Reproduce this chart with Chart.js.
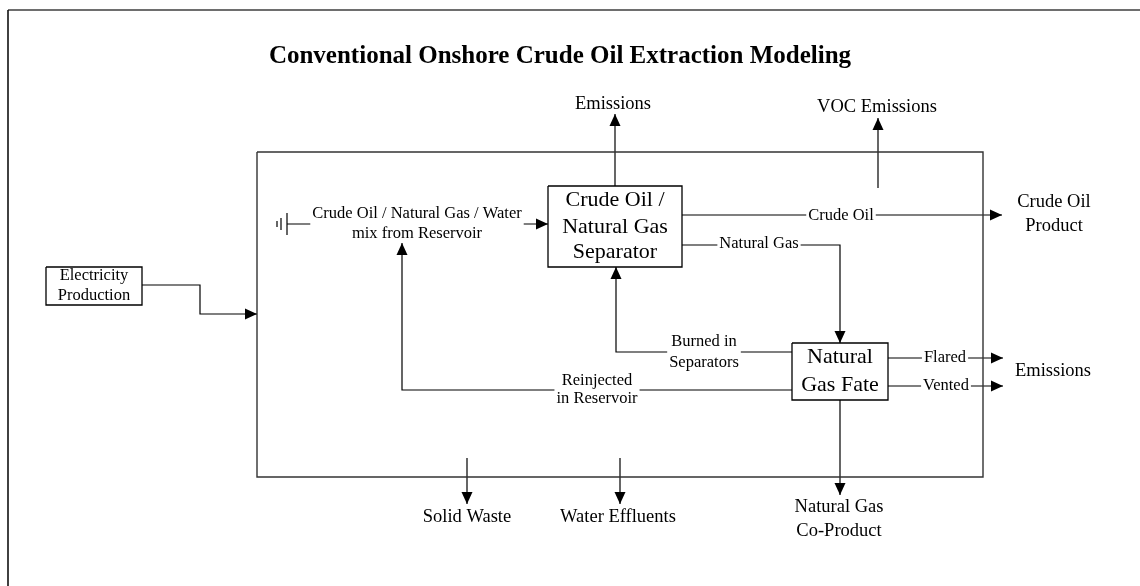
<!DOCTYPE html>
<html><head><meta charset="utf-8">
<script src="https://cdn.jsdelivr.net/npm/chart.js@4"></script>
<style>html,body{margin:0;padding:0;background:#fff;}#wrap{width:1140px;height:586px;}</style>
</head><body><div id="wrap"><canvas id="c" width="1140" height="586"></canvas></div>
<script>
// ---- diagram content (values in diagram units) ----
const titleText = 'Conventional Onshore Crude Oil Extraction Modeling';
const titleAt = [560, 57];

const frameLeft = [[8, 586], [8, 10]];
const frameTop = [[8, 10], [1140, 10]];
const boundary = [257, 152, 983, 477];

const boxLabels = [['Crude Oil /', 'Natural Gas', 'Separator'], ['Natural', 'Gas Fate'], ['Electricity', 'Production']];
const boxCorners = [[548, 186, 682, 267], [792, 343, 888, 400], [46, 267, 142, 305]];
const boxLineY = [[200.5, 227, 252], [357.5, 385], [275.5, 295.5]];
const boxFontPx = [22, 22, 16.5];

const flowPaths = [
  [[615, 186], [615, 114]],
  [[878, 188], [878, 118]],
  [[287, 224], [548, 224]],
  [[682, 215], [1002, 215]],
  [[682, 245], [840, 245], [840, 343]],
  [[792, 352], [616, 352], [616, 267]],
  [[792, 390], [402, 390], [402, 243]],
  [[888, 358], [1003, 358]],
  [[888, 386], [1003, 386]],
  [[840, 400], [840, 495]],
  [[467, 458], [467, 504]],
  [[620, 458], [620, 504]],
  [[142, 285], [200, 285], [200, 314], [257, 314]]
];
const groundMarks = [
  [[287, 213], [287, 235]],
  [[281, 218], [281, 230]],
  [[277, 221], [277, 227]]
];

const flowLabels = [['Crude Oil / Natural Gas / Water', 'mix from Reservoir'], ['Crude Oil'], ['Natural Gas'], ['Flared'], ['Vented'], ['Burned in', 'Separators'], ['Reinjected', 'in Reservoir']];
const flowLabelX = [417, 841, 759, 945, 946, 704, 597];
const flowLabelY = [[214, 234], [215.5], [244], [358], [386], [342, 363], [381, 399]];

const streamLabels = [['Emissions'], ['VOC Emissions'], ['Crude Oil', 'Product'], ['Emissions'], ['Natural Gas', 'Co-Product'], ['Solid Waste'], ['Water Effluents']];
const streamLabelX = [613, 877, 1054, 1053, 839, 467, 618];
const streamLabelY = [[104], [107], [202.5, 226], [371.5], [507.5, 531.5], [517], [517]];

// ---- build datasets ----
const pts = a => a.map(p => ({x: p[0], y: p[1]}));
const lineDs = (data, color, width) => ({data: pts(data), showLine: true, pointRadius: 0, borderColor: color, borderWidth: width, fill: false, tension: 0});
const rectPath = r => [[r[0], r[1]], [r[2], r[1]], [r[2], r[3]], [r[0], r[3]], [r[0], r[1]]];

const datasets = [];
datasets.push(lineDs(frameLeft, '#111', 1.6));
datasets.push(lineDs(frameTop, '#6e6e6e', 2));
datasets.push(lineDs(rectPath(boundary), '#333', 1.4));
boxCorners.forEach(r => datasets.push(lineDs(rectPath(r), '#000', 1.3)));
flowPaths.forEach(p => { const d = lineDs(p, '#000', 1.2); d.arrow = true; datasets.push(d); });
groundMarks.forEach(p => datasets.push(lineDs(p, '#000', 1.2)));

const SERIF = '"Liberation Serif", "Times New Roman", serif';

const diagramPlugin = {
  id: 'diagram',
  afterDatasetsDraw(chart) {
    const ctx = chart.ctx, xs = chart.scales.x, ys = chart.scales.y;
    const X = v => xs.getPixelForValue(v), Y = v => ys.getPixelForValue(v);
    ctx.save();
    // arrowheads
    chart.data.datasets.forEach(ds => {
      if (!ds.arrow) return;
      const n = ds.data.length, p = ds.data[n - 1], q = ds.data[n - 2];
      const px = X(p.x), py = Y(p.y), qx = X(q.x), qy = Y(q.y);
      const L = Math.hypot(px - qx, py - qy), dx = (px - qx) / L, dy = (py - qy) / L;
      const len = 12, hw = 5.5;
      ctx.beginPath();
      ctx.moveTo(px, py);
      ctx.lineTo(px - dx * len - dy * hw, py - dy * len + dx * hw);
      ctx.lineTo(px - dx * len + dy * hw, py - dy * len - dx * hw);
      ctx.closePath();
      ctx.fillStyle = '#000';
      ctx.fill();
    });
    ctx.textAlign = 'center';
    ctx.textBaseline = 'middle';
    ctx.fillStyle = '#000';
    // title
    ctx.font = 'bold 25px ' + SERIF;
    ctx.fillText(titleText, X(titleAt[0]), Y(titleAt[1]));
    // box labels
    boxLabels.forEach((lines, i) => {
      ctx.font = boxFontPx[i] + 'px ' + SERIF;
      const cx = (boxCorners[i][0] + boxCorners[i][2]) / 2;
      lines.forEach((t, j) => ctx.fillText(t, X(cx), Y(boxLineY[i][j])));
    });
    // flow labels with white backing to break the line
    ctx.font = '16.5px ' + SERIF;
    flowLabels.forEach((lines, i) => {
      const w = Math.max(...lines.map(t => ctx.measureText(t).width)) + 4;
      const ys0 = flowLabelY[i];
      const top = Y(ys0[0]) - 8, bot = Y(ys0[ys0.length - 1]) + 8;
      ctx.fillStyle = '#fff';
      ctx.fillRect(X(flowLabelX[i]) - w / 2, top, w, bot - top);
      ctx.fillStyle = '#000';
      lines.forEach((t, j) => ctx.fillText(t, X(flowLabelX[i]), Y(ys0[j])));
    });
    // stream labels
    ctx.font = '18.5px ' + SERIF;
    streamLabels.forEach((lines, i) => {
      lines.forEach((t, j) => ctx.fillText(t, X(streamLabelX[i]), Y(streamLabelY[i][j])));
    });
    ctx.restore();
  }
};

new Chart(document.getElementById('c'), {
  type: 'scatter',
  data: {datasets},
  options: {
    responsive: false,
    animation: false,
    events: [],
    layout: {padding: 0},
    plugins: {legend: {display: false}, tooltip: {enabled: false}, title: {display: false}},
    scales: {
      x: {type: 'linear', min: 0, max: 1140, display: false},
      y: {type: 'linear', min: 0, max: 586, reverse: true, display: false}
    }
  },
  plugins: [diagramPlugin]
});
</script>
</body></html>
